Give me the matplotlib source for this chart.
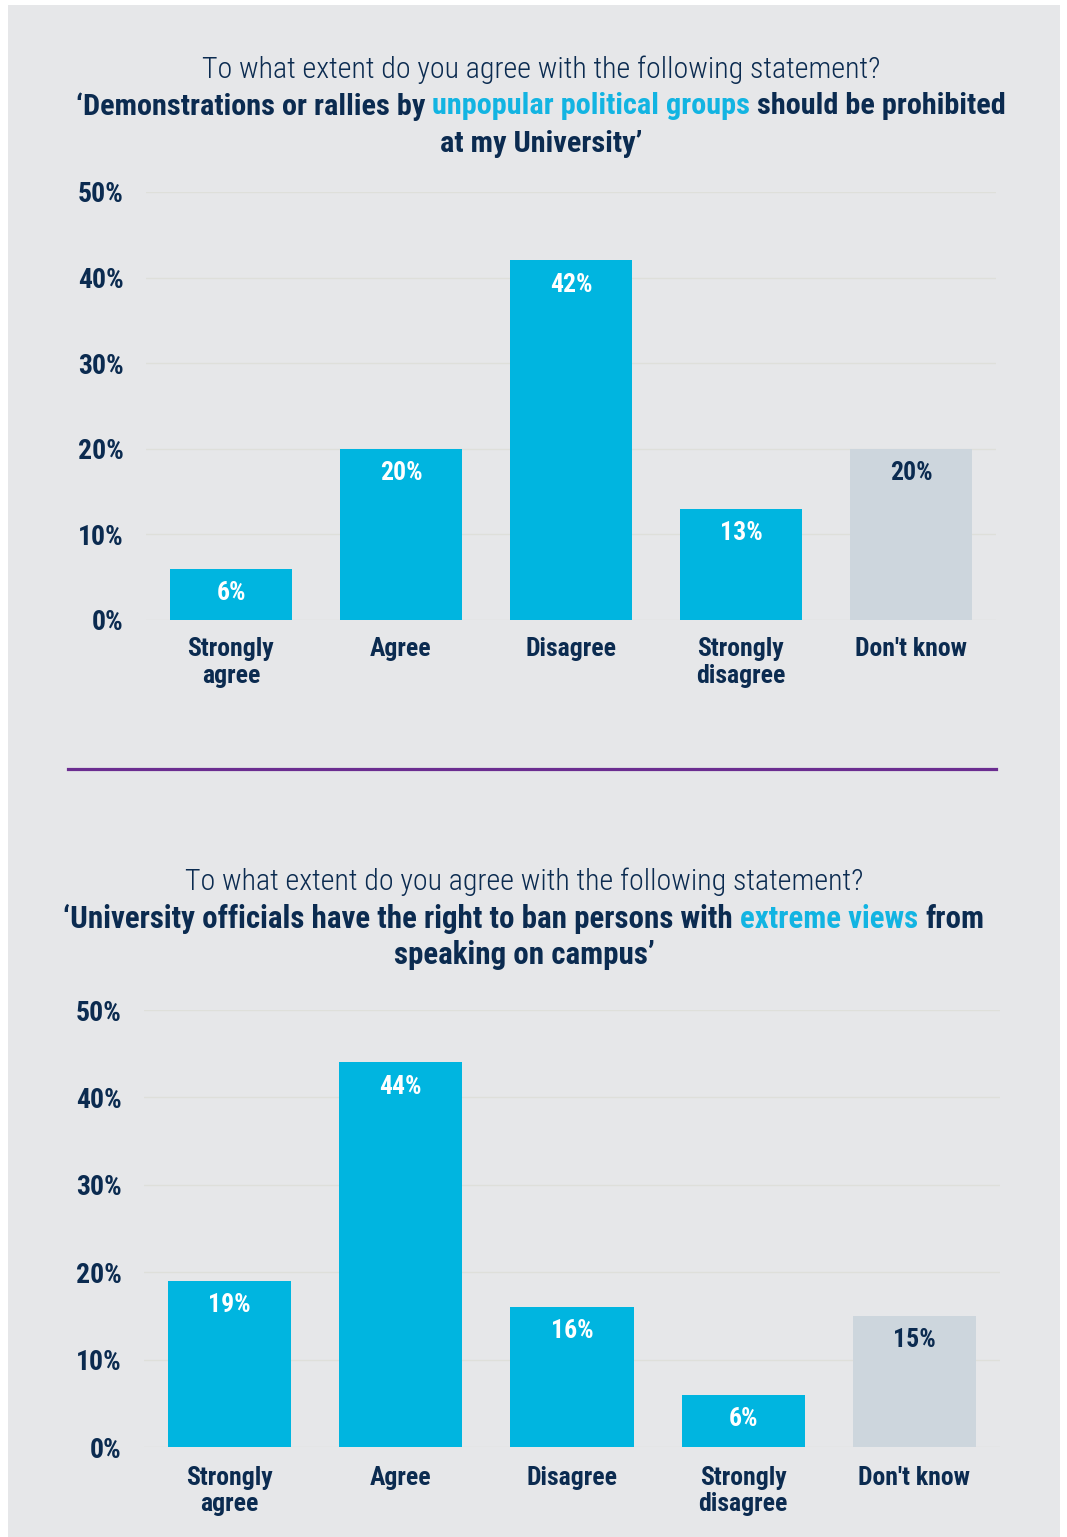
import matplotlib
matplotlib.use("Agg")
import matplotlib.pyplot as plt
from matplotlib.patches import Rectangle
from matplotlib.lines import Line2D

# ---- data ----
categories = ["Strongly\nagree", "Agree", "Disagree", "Strongly\ndisagree", "Don't know"]
protest_ban = [6, 20, 42, 13, 20]        # unpopular political groups
speaker_ban = [19, 44, 16, 6, 15]        # persons with extreme views
y_ticks = [0, 10, 20, 30, 40, 50]
y_tick_labels = ["0%", "10%", "20%", "30%", "40%", "50%"]

question = "To what extent do you agree with the following statement?"
title1_lines = [
    [("‘Demonstrations or rallies by", "navy"), ("unpopular political groups", "cyan"),
     ("should be prohibited", "navy")],
    [("at my University’", "navy")],
]
title2_lines = [
    [("‘University officials have the right to ban persons with", "navy"),
     ("extreme views", "cyan"), ("from", "navy")],
    [("speaking on campus’", "navy")],
]

# ---- style ----
NAVY = "#0b2b50"
CYAN = "#00b5e0"
CYAN_TXT = "#12b4e2"
GREY_BAR = "#cdd6dd"
PANEL = "#e6e7e9"
GRID = "#dedfda"
PURPLE = "#6b2d90"
COLORS = {"navy": NAVY, "cyan": CYAN_TXT}

BOLD = ["Roboto Condensed", "Liberation Sans Narrow", "DejaVu Sans"]
LIGHT = ["Roboto Condensed", "Roboto", "DejaVu Sans"]

W, H = 1067, 1537
fig = plt.figure(figsize=(W / 100, H / 100), dpi=100, facecolor="white")
renderer = fig.canvas.get_renderer()


def fx(x):
    return x / W


def fy(y):
    return 1 - y / H


# grey panel behind everything
fig.patches.append(Rectangle((fx(8), 0), fx(1060) - fx(8), fy(5), transform=fig.transFigure,
                             facecolor=PANEL, edgecolor="none", zorder=-5))


def rich_line(xc, y, parts, size, family, weight):
    """Draw a centred line made of differently coloured pieces."""
    probe_a = fig.text(0, 0, "xx", fontsize=size, family=family, weight=weight)
    probe_b = fig.text(0, 0, "x x", fontsize=size, family=family, weight=weight)
    space = (probe_b.get_window_extent(renderer).width
             - probe_a.get_window_extent(renderer).width)
    probe_a.remove()
    probe_b.remove()
    texts = []
    widths = []
    for s, c in parts:
        t = fig.text(0, fy(y), s, fontsize=size, family=family, weight=weight,
                     color=COLORS[c], ha="left", va="center")
        texts.append(t)
        widths.append(t.get_window_extent(renderer).width)
    total = sum(widths) + space * (len(parts) - 1)
    x = xc - total / 2
    for t, w in zip(texts, widths):
        t.set_x(fx(x))
        x += w + space


def draw_title(xc, y0, lines, bold_size):
    fig.text(fx(xc), fy(y0), question, fontsize=21.6, family=LIGHT, weight="light",
             color=NAVY, ha="center", va="center")
    for k, parts in enumerate(lines):
        rich_line(xc, y0 + 36.5 + 37 * k, parts, bold_size, BOLD, "bold")


def draw_chart(rect_px, values, xlabel_pad):
    left, right, top, bottom = rect_px
    ax = fig.add_axes([fx(left), fy(bottom), fx(right) - fx(left), fy(top) - fy(bottom)])
    ax.set_facecolor("none")
    ax.set_xlim(-0.5, 4.5)
    ax.set_ylim(0, 50)
    x = list(range(len(categories)))
    colors = [CYAN] * (len(categories) - 1) + [GREY_BAR]
    ax.bar(x, values, width=0.72, color=colors, zorder=2)
    for i, v in enumerate(values):
        ax.annotate(f"{v}%", (i, v), xytext=(0, -17.5), textcoords="offset points",
                    ha="center", va="center", fontsize=18.5, family=BOLD, weight="bold",
                    color="white" if i < len(values) - 1 else NAVY, zorder=3)
    ax.set_yticks(y_ticks)
    ax.set_yticklabels(y_tick_labels, family=BOLD, weight="bold", fontsize=20, color=NAVY)
    ax.set_xticks(x)
    ax.set_xticklabels(categories, family=BOLD, weight="bold", fontsize=18.5, color=NAVY,
                       linespacing=1.12)
    ax.tick_params(axis="y", length=0, pad=16)
    ax.tick_params(axis="x", length=0, pad=xlabel_pad)
    ax.yaxis.grid(True, color=GRID, linewidth=1.0, zorder=1)
    ax.set_axisbelow(True)
    for sp in ax.spines.values():
        sp.set_visible(False)
    return ax


draw_title(541, 70, title1_lines, 21.8)
draw_chart((146, 996, 192, 620), protest_ban, 12.5)

fig.add_artist(Line2D([fx(68), fx(996)], [fy(769), fy(769)], transform=fig.transFigure,
                      color=PURPLE, linewidth=2.3))

draw_title(524, 882, title2_lines, 22.3)
draw_chart((144, 1000, 1010, 1447), speaker_ban, 13.5)

fig.savefig("out.png", dpi=100, facecolor="white")
